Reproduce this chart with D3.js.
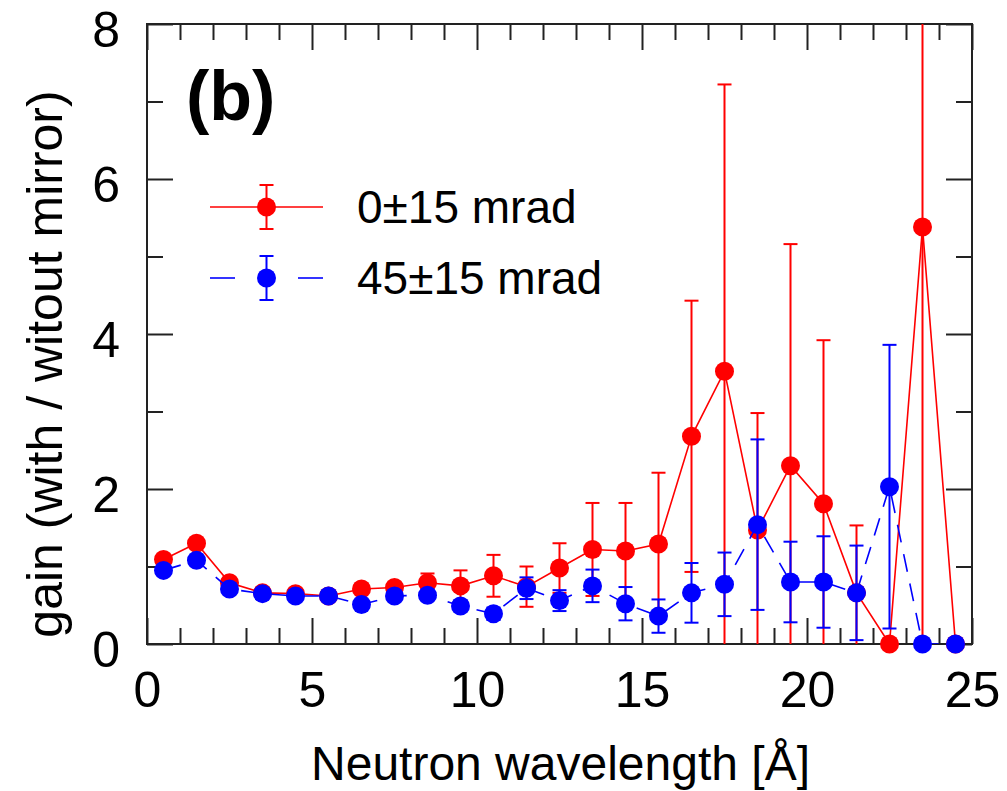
<!DOCTYPE html>
<html>
<head>
<meta charset="utf-8">
<script src="https://cdn.jsdelivr.net/npm/d3@7"></script>
<style>
  html, body { margin: 0; padding: 0; background: #fff; }
  svg { display: block; }
  text { font-family: "Liberation Sans", Arial, sans-serif; fill: #000; }
</style>
</head>
<body>
<svg id="chart" width="1007" height="791"></svg>
<script>
// ---- data ----
const wavelength = [0.5,1.5,2.5,3.5,4.5,5.5,6.5,7.5,8.5,9.5,10.5,11.5,12.5,13.5,14.5,15.5,16.5,17.5,18.5,19.5,20.5,21.5,22.5,23.5,24.5];
const gain0 = [1.09,1.30,0.79,0.66,0.65,0.62,0.71,0.73,0.79,0.75,0.88,0.74,0.98,1.22,1.20,1.29,2.68,3.52,1.47,2.30,1.81,0.66,0.00,5.38,0.00];
const err0  = [0.05,0.05,0.04,0.03,0.03,0.03,0.05,0.06,0.12,0.20,0.27,0.26,0.32,0.60,0.62,0.92,1.75,3.70,1.51,2.86,2.11,0.87,0.00,5.80,0.00];
const gain45 = [0.95,1.08,0.71,0.65,0.62,0.62,0.51,0.62,0.63,0.49,0.39,0.72,0.56,0.75,0.52,0.36,0.66,0.77,1.54,0.80,0.80,0.66,2.03,0.00,0.00];
const err45  = [0.04,0.04,0.03,0.03,0.03,0.03,0.04,0.05,0.06,0.07,0.08,0.14,0.135,0.21,0.215,0.215,0.385,0.41,1.10,0.52,0.59,0.61,1.83,0.00,0.00];
const seriesLabels = ["0\u00B115 mrad", "45\u00B115 mrad"];
const xTickMajor = [0,5,10,15,20,25];
const yTickMajor = [0,2,4,6,8];
const xLabel = "Neutron wavelength [\u00C5]";
const yLabel = "gain (with / witout mirror)";
const panelLabel = "(b)";

// ---- layout ----
const svg = d3.select("#chart");
const L = 147, R = 972, T = 24, B = 644;
const x = d3.scaleLinear().domain([0,25]).range([L,R]);
const y = d3.scaleLinear().domain([0,8]).range([B,T]);
const fs = 50;

svg.append("defs").append("clipPath").attr("id","plotclip")
  .append("rect").attr("x",L).attr("y",T).attr("width",R-L).attr("height",B-T);

function styleAxis(g){
  g.select(".domain").remove();
  g.selectAll(".tick line").attr("stroke","#222").attr("stroke-width",2);
  g.selectAll(".tick text").style("font-size", fs+"px").attr("font-family","Liberation Sans, Arial, sans-serif").attr("fill","#000");
}
const xMinor = d3.range(0,26,1).filter(v => v%5!==0);
const yMinor = [1,3,5,7];

svg.append("g").attr("transform",`translate(0,${B})`)
  .call(d3.axisBottom(x).tickValues(xTickMajor).tickSize(-26).tickSizeOuter(0).tickPadding(27).tickFormat(d3.format("d")))
  .call(styleAxis);
svg.append("g").attr("transform",`translate(0,${B})`)
  .call(d3.axisBottom(x).tickValues(xMinor).tickSize(-16).tickSizeOuter(0).tickFormat(""))
  .call(styleAxis);
svg.append("g").attr("transform",`translate(0,${T})`)
  .call(d3.axisTop(x).tickValues(xTickMajor).tickSize(-26).tickSizeOuter(0).tickFormat(""))
  .call(styleAxis);
svg.append("g").attr("transform",`translate(0,${T})`)
  .call(d3.axisTop(x).tickValues(xMinor).tickSize(-16).tickSizeOuter(0).tickFormat(""))
  .call(styleAxis);
svg.append("g").attr("transform",`translate(${L},0)`)
  .call(d3.axisLeft(y).tickValues(yTickMajor).tickSize(-26).tickSizeOuter(0).tickPadding(27).tickFormat(d3.format("d")))
  .call(styleAxis)
  .call(g => g.selectAll(".tick text").attr("dy","0.44em"));
svg.append("g").attr("transform",`translate(${L},0)`)
  .call(d3.axisLeft(y).tickValues(yMinor).tickSize(-16).tickSizeOuter(0).tickFormat(""))
  .call(styleAxis);
svg.append("g").attr("transform",`translate(${R},0)`)
  .call(d3.axisRight(y).tickValues(yTickMajor).tickSize(-26).tickSizeOuter(0).tickFormat(""))
  .call(styleAxis);
svg.append("g").attr("transform",`translate(${R},0)`)
  .call(d3.axisRight(y).tickValues(yMinor).tickSize(-16).tickSizeOuter(0).tickFormat(""))
  .call(styleAxis);

svg.append("rect").attr("x",L).attr("y",T).attr("width",R-L).attr("height",B-T)
  .attr("fill","none").attr("stroke","#222").attr("stroke-width",2);

const series = [
  {vals: gain0, errs: err0, color: "#ff0000", dash: null, label: seriesLabels[0]},
  {vals: gain45, errs: err45, color: "#0000ff", dash: "18,12", label: seriesLabels[1]}
];
const capW = 7, rad = 9.5;
series.forEach(s => {
  const pts = wavelength.map((w,i) => ({x:w, v:s.vals[i], e:s.errs[i]}));
  const g = svg.append("g");
  const line = d3.line().x(d => x(d.x)).y(d => y(d.v));
  g.append("path").datum(pts).attr("d",line).attr("fill","none")
    .attr("stroke",s.color).attr("stroke-width",1.6).attr("stroke-dasharray",s.dash)
    .attr("clip-path","url(#plotclip)");
  const eb = g.append("g").attr("clip-path","url(#plotclip)")
    .selectAll("g").data(pts.filter(d => d.e > 0)).join("g");
  eb.append("line").attr("x1",d=>x(d.x)).attr("x2",d=>x(d.x))
    .attr("y1",d=>y(d.v-d.e)).attr("y2",d=>y(d.v+d.e)).attr("stroke",s.color).attr("stroke-width",2);
  eb.append("line").attr("x1",d=>x(d.x)-capW).attr("x2",d=>x(d.x)+capW)
    .attr("y1",d=>y(d.v+d.e)).attr("y2",d=>y(d.v+d.e)).attr("stroke",s.color).attr("stroke-width",2);
  eb.append("line").attr("x1",d=>x(d.x)-capW).attr("x2",d=>x(d.x)+capW)
    .attr("y1",d=>y(d.v-d.e)).attr("y2",d=>y(d.v-d.e)).attr("stroke",s.color).attr("stroke-width",2);
  g.selectAll("circle").data(pts).join("circle")
    .attr("cx",d=>x(d.x)).attr("cy",d=>y(d.v)).attr("r",rad).attr("fill",s.color);
});

// legend
const legY = [207, 278];
series.forEach((s,i) => {
  const g = svg.append("g").attr("transform",`translate(0,${legY[i]})`);
  if (s.dash) {
    g.append("line").attr("x1",210).attr("x2",235).attr("y1",0).attr("y2",0).attr("stroke",s.color).attr("stroke-width",1.6);
    g.append("line").attr("x1",298).attr("x2",323).attr("y1",0).attr("y2",0).attr("stroke",s.color).attr("stroke-width",1.6);
  } else {
    g.append("line").attr("x1",210).attr("x2",323).attr("y1",0).attr("y2",0).attr("stroke",s.color).attr("stroke-width",1.6);
  }
  g.append("line").attr("x1",266.5).attr("x2",266.5).attr("y1",-22).attr("y2",22).attr("stroke",s.color).attr("stroke-width",2);
  g.append("line").attr("x1",259.5).attr("x2",273.5).attr("y1",-22).attr("y2",-22).attr("stroke",s.color).attr("stroke-width",2);
  g.append("line").attr("x1",259.5).attr("x2",273.5).attr("y1",22).attr("y2",22).attr("stroke",s.color).attr("stroke-width",2);
  g.append("circle").attr("cx",266.5).attr("cy",0).attr("r",rad).attr("fill",s.color);
  g.append("text").attr("x",357).attr("y",16).style("font-size","46px").text(s.label);
});

// labels
svg.append("text").attr("x",(L+R)/2+1).attr("y",780).attr("text-anchor","middle")
  .style("font-size","48px").text(xLabel);
svg.append("text").attr("transform",`translate(62,${(T+B)/2+30}) rotate(-90)`).attr("text-anchor","middle")
  .style("font-size",fs+"px").text(yLabel);
svg.append("text").attr("x",186).attr("y",120).style("font-size","70px").style("font-weight","bold").text(panelLabel);
</script>
</body>
</html>
